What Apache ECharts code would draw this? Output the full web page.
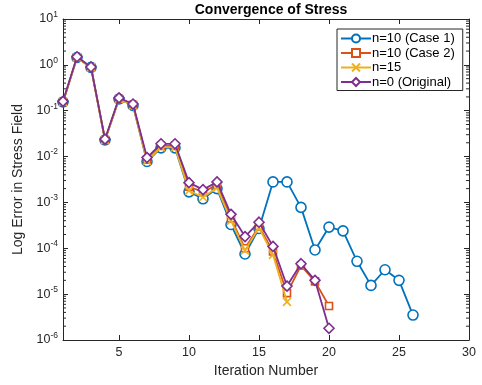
<!DOCTYPE html>
<html><head><meta charset="utf-8">
<script src="https://cdn.jsdelivr.net/npm/echarts@6/dist/echarts.min.js"></script>
<style>html,body{margin:0;padding:0;background:#fff}#c{width:482px;height:385px}</style>
</head><body><div id="c"></div>
<script>
const seriesNames = ['n=10 (Case 1)', 'n=10 (Case 2)', 'n=15', 'n=0 (Original)'];
const case1 = [0.155,1.45,0.88,0.023,0.18,0.13,0.0078,0.0155,0.0155,0.0017,0.0012,0.002,0.00033,0.000075,0.00027,0.0028,0.0028,0.00078,0.000092,0.00029,0.00024,0.000052,0.0000155,0.000034,0.00002,0.0000035];
const case2 = [0.155,1.45,0.88,0.023,0.18,0.135,0.0085,0.017,0.017,0.0022,0.0017,0.0024,0.00045,0.0001,0.0003,0.000085,0.0000105,0.000042,0.000019,0.0000055];
const n15 = [0.155,1.45,0.88,0.023,0.18,0.13,0.008,0.016,0.016,0.0018,0.0013,0.0021,0.0004,0.00009,0.00028,0.000072,0.0000068];
const original = [0.16,1.5,0.9,0.024,0.19,0.14,0.0095,0.019,0.019,0.0027,0.0019,0.0028,0.00055,0.00018,0.00037,0.00011,0.000015,0.000046,0.00002,0.0000018];
const xTicks = [5,10,15,20,25,30];
const colors = ['#0072BD','#D95319','#EDB120','#7E2F8E'];
const symbols = ['circle','rect','path://M0,0L10,10M10,0L0,10','diamond'];
const allData = [case1, case2, n15, original];

const minorVals = [];
for (let e = -6; e <= 0; e++) for (let k = 2; k <= 9; k++) minorVals.push(k * Math.pow(10, e));

const FONT = 'Liberation Sans, Arial, sans-serif';
const chart = echarts.init(document.getElementById('c'));
const expLabel = v => {
  const e = Math.round(Math.log10(v));
  return '{b|10}{s|' + e + '}';
};
const axisLine = {show: true, lineStyle: {color: '#262626', width: 1}};
const series = allData.map((d, i) => ({
  name: seriesNames[i],
  type: 'line',
  data: d.map((v, j) => [j + 1, v]),
  symbol: symbols[i],
  symbolSize: i === 1 ? 7 : (i === 2 ? 8 : 10),
  showAllSymbol: true,
  lineStyle: {color: colors[i], width: 1.8},
  itemStyle: {color: i === 2 ? colors[i] : '#fff', borderColor: colors[i], borderWidth: 1.6},
  z: 2 + i,
  animation: false
}));
series.push({
  type: 'custom',
  silent: true,
  animation: false,
  data: minorVals,
  renderItem: (params, api) => {
    const v = api.value(0);
    const l = api.coord([1, v]);
    const r = api.coord([30, v]);
    return {type: 'group', children: [
      {type: 'line', shape: {x1: l[0], y1: l[1], x2: l[0] + 3, y2: l[1]}, style: {stroke: '#262626', lineWidth: 1}},
      {type: 'line', shape: {x1: r[0], y1: r[1], x2: r[0] - 3, y2: r[1]}, style: {stroke: '#262626', lineWidth: 1}}
    ]};
  },
  encode: {x: -1, y: 0}
});

chart.setOption({
  backgroundColor: '#fff',
  animation: false,
  textStyle: {fontFamily: FONT},
  title: {text: 'Convergence of Stress', left: 266, top: -2, textAlign: 'center',
    textStyle: {fontSize: 14, fontWeight: 'bold', color: '#000', fontFamily: FONT}},
  grid: {left: 63, right: 13, top: 19, bottom: 45},
  legend: {
    data: seriesNames, orient: 'vertical', left: 337, top: 29,
    itemWidth: 30, itemHeight: 10, itemGap: 1.5,
    borderColor: '#262626', borderWidth: 1, backgroundColor: '#fff',
    padding: [3, 8, 2, 3],
    textStyle: {fontSize: 13, color: '#000', fontFamily: FONT, padding: [0,0,0,-4]}
  },
  xAxis: [{
    type: 'value', min: 1, max: 30, name: 'Iteration Number', nameLocation: 'middle', nameGap: 21,
    nameTextStyle: {fontSize: 14, color: '#262626', fontFamily: FONT},
    axisLine: axisLine,
    axisTick: {inside: true, length: 5, customValues: xTicks, lineStyle: {color: '#262626'}},
    axisLabel: {customValues: xTicks, fontSize: 12.5, color: '#262626', margin: 6},
    splitLine: {show: false}
  }, {
    type: 'value', min: 1, max: 30, position: 'top',
    axisLine: axisLine,
    axisTick: {inside: true, length: 5, customValues: xTicks, lineStyle: {color: '#262626'}},
    axisLabel: {show: false}, splitLine: {show: false}
  }],
  yAxis: [{
    type: 'log', logBase: 10, min: 1e-6, max: 10, splitNumber: 7,
    name: 'Log Error in Stress Field', nameLocation: 'middle', nameGap: 34,
    nameTextStyle: {fontSize: 14, color: '#262626', fontFamily: FONT},
    axisLine: axisLine,
    axisTick: {inside: true, length: 5, lineStyle: {color: '#262626'}},
    axisLabel: {formatter: expLabel, margin: 5, rich: {
      b: {fontSize: 12.5, color: '#262626', fontFamily: FONT},
      s: {fontSize: 8.5, color: '#262626', fontFamily: FONT, padding: [0, 0, 9, 0]}
    }},
    splitLine: {show: false}
  }, {
    type: 'log', logBase: 10, min: 1e-6, max: 10, splitNumber: 7, position: 'right',
    axisLine: axisLine,
    axisTick: {inside: true, length: 5, lineStyle: {color: '#262626'}},
    axisLabel: {show: false}, splitLine: {show: false}
  }],
  series: series
});
</script></body></html>
